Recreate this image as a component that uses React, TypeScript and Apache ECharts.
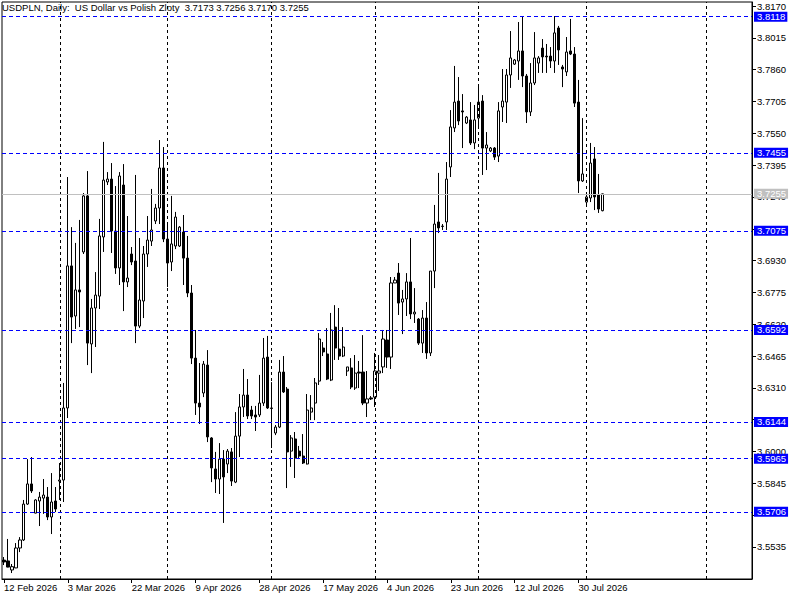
import React, { useEffect, useRef } from "react";
import * as echarts from "echarts";

const TITLE = "USDPLN, Daily:  US Dollar vs Polish Zloty  3.7173 3.7256 3.7170 3.7255";

const opens = [
  3.5471, 3.5467, 3.5423, 3.5433, 3.5530, 3.5569, 3.5744, 3.5842, 3.5700, 3.5759,
  3.5773, 3.5778, 3.5681, 3.5759, 3.5856, 3.5861, 3.6212, 3.6904, 3.6660, 3.6787,
  3.6972, 3.7245, 3.6524, 3.6699, 3.6757, 3.7045, 3.7313, 3.7327, 3.7074, 3.6894,
  3.7298, 3.6826, 3.6962, 3.6928, 3.6611, 3.6733, 3.6962, 3.7025, 3.7123, 3.7186,
  3.7381, 3.7035, 3.6923, 3.7001, 3.7001, 3.7069, 3.6942, 3.6772, 3.6455, 3.6236,
  3.6285, 3.6421, 3.6066, 3.5915, 3.5866, 3.5963, 3.5939, 3.5998, 3.5851, 3.6075,
  3.6217, 3.6275, 3.6202, 3.6178, 3.6178, 3.6236, 3.6460, 3.6212, 3.6090, 3.6119,
  3.6387, 3.6304, 3.6002, 3.6061, 3.6002, 3.5978, 3.5939, 3.6192, 3.6236, 3.6343,
  3.6504, 3.6475, 3.6348, 3.6606, 3.6499, 3.6465, 3.6392, 3.6407, 3.6309, 3.6387,
  3.6387, 3.6236, 3.6261, 3.6265, 3.6382, 3.6412, 3.6543, 3.6460, 3.6821, 3.6869,
  3.6728, 3.6743, 3.6826, 3.6670, 3.6645, 3.6528, 3.6650, 3.6480, 3.6879, 3.7118,
  3.7096, 3.7118, 3.7386, 3.7576, 3.7707, 3.7659, 3.7600, 3.7615, 3.7503, 3.7624,
  3.7707, 3.7478, 3.7464, 3.7478, 3.7439, 3.7678, 3.7702, 3.7834, 3.7887, 3.7902,
  3.7951, 3.7829, 3.7654, 3.7795, 3.7892, 3.7965, 3.7926, 3.7926, 3.7902, 3.8063,
  3.7873, 3.7849, 3.7951, 3.7936, 3.7702, 3.7318, 3.7215, 3.7235, 3.7425, 3.7250,
  3.7173,
];

const closes = [
  3.5462, 3.5437, 3.5439, 3.5530, 3.5569, 3.5744, 3.5842, 3.5808, 3.5764, 3.5778,
  3.5788, 3.5681, 3.5754, 3.5720, 3.5861, 3.6212, 3.6904, 3.6655, 3.6787, 3.6777,
  3.7245, 3.6528, 3.6699, 3.6762, 3.7050, 3.7322, 3.7327, 3.7074, 3.6894, 3.7342,
  3.6826, 3.6845, 3.6923, 3.6611, 3.6738, 3.6962, 3.7030, 3.7079, 3.7186, 3.7381,
  3.7035, 3.6918, 3.7011, 3.7142, 3.7093, 3.6942, 3.6772, 3.6455, 3.6236, 3.6217,
  3.6426, 3.6071, 3.5920, 3.5866, 3.5963, 3.5876, 3.6002, 3.5856, 3.6075, 3.6217,
  3.6275, 3.6173, 3.6173, 3.6168, 3.6236, 3.6455, 3.6212, 3.6210, 3.6119, 3.6387,
  3.6290, 3.5998, 3.6066, 3.5968, 3.5978, 3.5944, 3.6202, 3.6212, 3.6334, 3.6548,
  3.6485, 3.6353, 3.6592, 3.6504, 3.6465, 3.6509, 3.6412, 3.6314, 3.6382, 3.6382,
  3.6236, 3.6256, 3.6256, 3.6392, 3.6392, 3.6548, 3.6460, 3.6821, 3.6835, 3.6723,
  3.6743, 3.6826, 3.6670, 3.6679, 3.6528, 3.6650, 3.6480, 3.6879, 3.7108, 3.7089,
  3.7098, 3.7327, 3.7581, 3.7702, 3.7610, 3.7654, 3.7629, 3.7503, 3.7615, 3.7702,
  3.7478, 3.7493, 3.7478, 3.7434, 3.7659, 3.7707, 3.7834, 3.7917, 3.7907, 3.7951,
  3.7829, 3.7654, 3.7795, 3.7917, 3.7917, 3.7922, 3.7922, 3.7902, 3.8039, 3.7956,
  3.7863, 3.7946, 3.7936, 3.7697, 3.7318, 3.7352, 3.7240, 3.7405, 3.7240, 3.7181,
  3.7255,
];

const lows = [
  3.5447, 3.5436, 3.5408, 3.5432, 3.5510, 3.5564, 3.5740, 3.5798, 3.5699, 3.5637,
  3.5696, 3.5666, 3.5598, 3.5705, 3.5764, 3.5754, 3.6163, 3.6528, 3.6597, 3.6606,
  3.6962, 3.6421, 3.6382, 3.6509, 3.6694, 3.6972, 3.7298, 3.6967, 3.6865, 3.6811,
  3.6684, 3.6801, 3.6908, 3.6528, 3.6601, 3.6650, 3.6899, 3.7001, 3.7108, 3.7108,
  3.7020, 3.6801, 3.6879, 3.6986, 3.6996, 3.6811, 3.6752, 3.6426, 3.6178, 3.6134,
  3.6265, 3.6046, 3.5851, 3.5798, 3.5793, 3.5652, 3.5895, 3.5832, 3.5846, 3.5973,
  3.6168, 3.6158, 3.6158, 3.6100, 3.6168, 3.6222, 3.6207, 3.6017, 3.6080, 3.6114,
  3.6285, 3.5822, 3.5925, 3.5871, 3.5963, 3.5939, 3.5937, 3.6153, 3.6153, 3.6324,
  3.6465, 3.6348, 3.6343, 3.6446, 3.6446, 3.6460, 3.6368, 3.6304, 3.6300, 3.6309,
  3.6226, 3.6168, 3.6251, 3.6217, 3.6295, 3.6382, 3.6407, 3.6402, 3.6821, 3.6665,
  3.6572, 3.6660, 3.6645, 3.6626, 3.6519, 3.6480, 3.6451, 3.6465, 3.6796, 3.7064,
  3.7079, 3.7079, 3.7337, 3.7556, 3.7590, 3.7478, 3.7595, 3.7493, 3.7473, 3.7581,
  3.7347, 3.7371, 3.7459, 3.7420, 3.7410, 3.7605, 3.7600, 3.7771, 3.7883, 3.7810,
  3.7775, 3.7600, 3.7634, 3.7785, 3.7844, 3.7844, 3.7844, 3.7868, 3.7844, 3.7883,
  3.7775, 3.7829, 3.7931, 3.7678, 3.7259, 3.7313, 3.7191, 3.7215, 3.7176, 3.7162,
  3.7170,
];

const highs = [
  3.5486, 3.5574, 3.5452, 3.5554, 3.5583, 3.5764, 3.5963, 3.5973, 3.5768, 3.5803,
  3.5866, 3.5827, 3.5895, 3.5827, 3.5944, 3.6334, 3.7337, 3.7093, 3.7016, 3.7128,
  3.7259, 3.7366, 3.6743, 3.6874, 3.7133, 3.7508, 3.7361, 3.7405, 3.7293, 3.7361,
  3.7400, 3.7147, 3.6996, 3.7347, 3.7040, 3.7001, 3.7147, 3.7279, 3.7206, 3.7517,
  3.7483, 3.7108, 3.7245, 3.7167, 3.7098, 3.7152, 3.7050, 3.6811, 3.6592, 3.6431,
  3.6441, 3.6494, 3.6070, 3.5998, 3.6041, 3.6007, 3.6012, 3.6017, 3.6192, 3.6280,
  3.6402, 3.6353, 3.6222, 3.6222, 3.6373, 3.6553, 3.6563, 3.6338, 3.6129, 3.6446,
  3.6465, 3.6314, 3.6080, 3.6095, 3.6027, 3.6085, 3.6280, 3.6275, 3.6358, 3.6577,
  3.6533, 3.6601, 3.6675, 3.6713, 3.6699, 3.6606, 3.6412, 3.6455, 3.6470, 3.6441,
  3.6567, 3.6392, 3.6270, 3.6480, 3.6470, 3.6592, 3.6592, 3.6850, 3.6850, 3.6918,
  3.6787, 3.6869, 3.7040, 3.6796, 3.6650, 3.6689, 3.6728, 3.6879, 3.7201, 3.7357,
  3.7108, 3.7410, 3.7663, 3.7878, 3.7824, 3.7741, 3.7634, 3.7702, 3.7688, 3.7790,
  3.7736, 3.7556, 3.7483, 3.7483, 3.7702, 3.7863, 3.7863, 3.8048, 3.7912, 3.8092,
  3.8121, 3.7839, 3.7892, 3.8043, 3.7926, 3.8009, 3.7985, 3.7970, 3.8121, 3.8073,
  3.7883, 3.8019, 3.8107, 3.7970, 3.7810, 3.7624, 3.7264, 3.7503, 3.7483, 3.7352,
  3.7256,
];

const dateTicks = [
  "12 Feb 2026", "3 Mar 2026", "22 Mar 2026", "9 Apr 2026", "28 Apr 2026",
  "17 May 2026", "4 Jun 2026", "23 Jun 2026", "12 Jul 2026", "30 Jul 2026",
];

// all price ticks of the right scale
const priceTicks = [
  3.5535, 3.569, 3.5845, 3.6, 3.6155, 3.631, 3.6465, 3.662, 3.6775, 3.693,
  3.7085, 3.724, 3.7395, 3.755, 3.7705, 3.786, 3.8015, 3.817,
];
// tick labels that are not fully hidden under a level badge
const priceLabels = [
  3.5535, 3.5845, 3.6, 3.631, 3.6465, 3.662, 3.6775, 3.693,
  3.724, 3.7395, 3.755, 3.7705, 3.786, 3.8015, 3.817,
];

const levels = [3.8118, 3.7455, 3.7075, 3.6592, 3.6144, 3.5965, 3.5706];
const bidPrice = 3.7255;

// layout
const EMPTY_SLOTS = 37;
const TICK_EVERY = 16;
const VGRID = [14, 41, 67, 93, 119, 146, 176];
const FONT = "Liberation Sans";
const FS = 9.5;

export default function App() {
  const ref = useRef<HTMLDivElement>(null);

  useEffect(() => {
    if (!ref.current) return;
    const chart = echarts.init(ref.current, undefined, { renderer: "svg" });
    const n = opens.length + EMPTY_SLOTS;
    const slots = Array.from({ length: n }, (_, i) => String(i));
    const data = opens.map((o, i) => [o, closes[i], lows[i], highs[i]]);
    const lastTick = (dateTicks.length - 1) * TICK_EVERY;
    const showTick = (index: number) => index % TICK_EVERY === 0 && index <= lastTick;

    const badge = (bg: string) => ({
      show: true,
      position: "end",
      distance: 2,
      color: "#fff",
      backgroundColor: bg,
      fontFamily: FONT,
      fontSize: FS,
      lineHeight: 10,
      padding: [0, 2, 0, 3],
    });

    chart.setOption({
      animation: false,
      backgroundColor: "#fff",
      textStyle: { fontFamily: FONT },
      title: {
        text: TITLE,
        left: 2,
        top: 2,
        padding: 0,
        textStyle: { fontSize: FS, fontWeight: "normal", color: "#000", fontFamily: FONT },
      },
      grid: {
        left: 2,
        right: 48,
        top: 2,
        bottom: 21,
        show: true,
        borderColor: "#000",
        borderWidth: 1,
      },
      xAxis: {
        type: "category",
        data: slots,
        boundaryGap: true,
        axisLine: { show: true, lineStyle: { color: "#000", width: 1 } },
        axisTick: {
          show: true,
          interval: showTick,
          alignWithLabel: true,
          length: 4,
          lineStyle: { color: "#000" },
        },
        axisLabel: {
          interval: showTick,
          formatter: (_v: string, idx: number) =>
            idx % TICK_EVERY === 0 && idx <= lastTick ? dateTicks[idx / TICK_EVERY] : "",
          align: "left",
          margin: 3,
          color: "#000",
          fontFamily: FONT,
          fontSize: FS,
        },
        splitLine: { show: false },
      },
      yAxis: {
        type: "value",
        position: "right",
        min: 3.5379,
        max: 3.81895,
        scale: true,
        axisLine: { show: true, onZero: false, lineStyle: { color: "#000", width: 1 } },
        axisTick: { show: true, length: 4, customValues: priceTicks, lineStyle: { color: "#000" } },
        axisLabel: {
          customValues: priceLabels,
          formatter: (v: number) => v.toFixed(4),
          margin: 5,
          color: "#000",
          fontFamily: FONT,
          fontSize: FS,
        },
        splitLine: { show: false },
      },
      series: [
        {
          type: "candlestick",
          data,
          barWidth: 2.6,
          itemStyle: {
            color: "#fff",
            color0: "#000",
            borderColor: "#000",
            borderColor0: "#000",
            borderWidth: 1,
          },
          markLine: {
            silent: true,
            precision: 4,
            symbol: ["none", "none"],
            animation: false,
            data: [
              ...VGRID.map((i) => ({
                xAxis: i,
                lineStyle: { color: "#000", type: [3, 3], width: 1 },
                label: { show: false },
              })),
              {
                yAxis: bidPrice,
                lineStyle: { color: "#c0c0c0", type: "solid", width: 1 },
                label: { ...badge("#c0c0c0"), formatter: bidPrice.toFixed(4) },
              },
              ...levels.map((v) => ({
                yAxis: v,
                lineStyle: { color: "#0000ff", type: [4, 3], width: 1 },
                label: { ...badge("#0000ff"), formatter: v.toFixed(4) },
              })),
            ],
          },
        },
      ],
    });
    return () => chart.dispose();
  }, []);

  return (
    <div
      ref={ref}
      style={{ position: "fixed", left: 0, top: 0, width: 800, height: 600, background: "#fff" }}
    />
  );
}
